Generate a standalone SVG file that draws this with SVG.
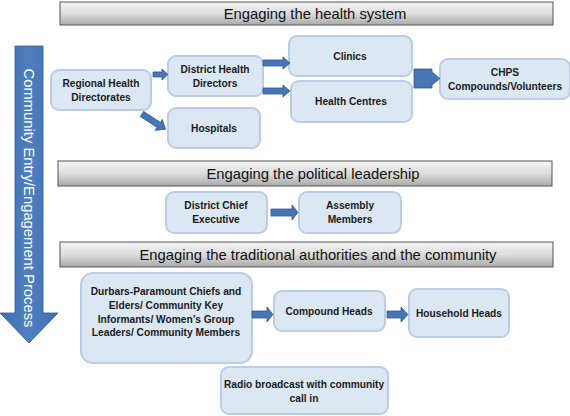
<svg xmlns="http://www.w3.org/2000/svg" width="570" height="416" viewBox="0 0 570 416">
<defs>
<linearGradient id="hdr" x1="0" y1="0" x2="0" y2="1">
<stop offset="0" stop-color="#f4f4f4"/>
<stop offset="0.5" stop-color="#dcdcdc"/>
<stop offset="1" stop-color="#aaaaaa"/>
</linearGradient>
<linearGradient id="bigArrow" x1="0" y1="0" x2="1" y2="0">
<stop offset="0" stop-color="#3f6fae"/>
<stop offset="0.5" stop-color="#4f7fbf"/>
<stop offset="1" stop-color="#3f6fae"/>
</linearGradient>
</defs>
<style>
.hdr rect{fill:url(#hdr);stroke:#555;stroke-width:1}
.hdr text{font-family:"Liberation Sans",Arial,sans-serif;font-size:14.8px;fill:#111;text-anchor:middle}
.node rect{fill:#dce7f4;stroke:#b9cde6;stroke-width:2}
.node text{font-family:"Liberation Sans",Arial,sans-serif;font-size:10.2px;font-weight:bold;fill:#1a1a1a;text-anchor:middle}
.arr{fill:#4676b4;stroke:#2f5b94;stroke-width:0.8}
</style>

<g id="header-health" class="hdr"><rect x="60" y="2" width="493" height="23"/><text x="315" y="19">Engaging the health system</text></g>
<g id="header-political" class="hdr"><rect x="58" y="161" width="494" height="25"/><text x="313" y="178.5">Engaging the political leadership</text></g>
<g id="header-traditional" class="hdr"><rect x="60" y="242" width="493" height="25"/><text x="318" y="259.5">Engaging the traditional authorities and the community</text></g>

<g id="process-arrow">
<polygon points="15,46 43,46 43,313 58,313 29,343 0,313 15,313" fill="url(#bigArrow)" stroke="#2f5b94" stroke-width="0.8"/>
<text transform="translate(23.5,198) rotate(90)" font-family="Liberation Sans, Arial, sans-serif" font-size="14.8" fill="#fff" text-anchor="middle">Community Entry/Engagement Process</text>
</g>

<g id="regional" class="node"><rect x="51" y="70" width="100" height="40" rx="8"/><text x="101" y="87">Regional Health</text><text x="101" y="101">Directorates</text></g>
<g id="district-health" class="node"><rect x="168" y="56" width="95" height="40" rx="8"/><text x="215" y="73">District Health</text><text x="215" y="87">Directors</text></g>
<g id="hospitals" class="node"><rect x="168" y="108" width="92" height="40" rx="8"/><text x="214" y="132">Hospitals</text></g>
<g id="clinics" class="node"><rect x="289" y="36" width="123" height="40" rx="8"/><text x="350" y="60">Clinics</text></g>
<g id="health-centres" class="node"><rect x="291" y="81" width="121" height="41" rx="8"/><text x="351" y="105">Health Centres</text></g>
<g id="chps" class="node"><rect x="440" y="59" width="130" height="40" rx="8"/><text x="505" y="76">CHPS</text><text x="505" y="90">Compounds/Volunteers</text></g>

<g id="dce" class="node"><rect x="166" y="192" width="101" height="41" rx="8"/><text x="216" y="209">District Chief</text><text x="216" y="223">Executive</text></g>
<g id="assembly" class="node"><rect x="299" y="192" width="102" height="41" rx="8"/><text x="350" y="209">Assembly</text><text x="350" y="223">Members</text></g>

<g id="durbars" class="node"><rect x="81" y="273" width="171" height="90" rx="12"/><text x="166" y="295">Durbars-Paramount Chiefs and</text><text x="166" y="309">Elders/ Community Key</text><text x="166" y="323">Informants/ Women’s Group</text><text x="166" y="336">Leaders/ Community Members</text></g>
<g id="compound-heads" class="node"><rect x="274" y="291" width="111" height="40" rx="8"/><text x="329" y="315">Compound Heads</text></g>
<g id="household-heads" class="node"><rect x="409" y="289" width="100" height="48" rx="8"/><text x="459" y="317">Household Heads</text></g>
<g id="radio" class="node"><rect x="221" y="367" width="167" height="47" rx="8"/><text x="304" y="388">Radio broadcast with community</text><text x="304" y="402">call in</text></g>

<g id="connectors">
<polygon class="arr" points="153,72 162,72 162,69 168,74.5 162,80 162,77 153,77"/>
<polygon class="arr" points="263,60 283,60 283,57 290,63 283,69 283,66 263,66"/>
<polygon class="arr" points="263,88 283,88 283,85 290,91 283,97 283,94 263,94"/>
<polygon class="arr" transform="translate(142,114) rotate(33)" points="0,-3 20,-3 20,-6.5 28,0 20,6.5 20,3 0,3"/>
<polygon class="arr" points="414,69 432,69 432,72 440,78.5 432,85 432,88 414,88"/>
<polygon class="arr" points="271,209 292,209 292,205 298,212.5 292,220 292,216 271,216"/>
<polygon class="arr" points="252,311 267,311 267,307 273,314.5 267,322 267,318 252,318"/>
<polygon class="arr" points="387,311 401,311 401,307 408,314.5 401,322 401,318 387,318"/>
</g>
</svg>
